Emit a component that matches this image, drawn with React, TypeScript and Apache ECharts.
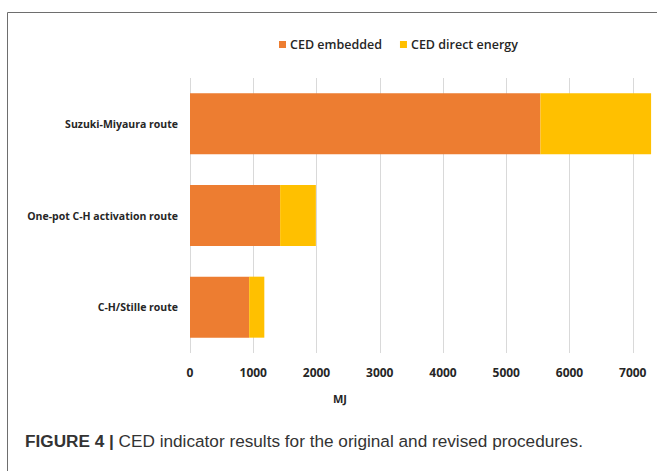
import React, { useEffect, useRef } from "react";
import * as echarts from "echarts";

const categories = ["Suzuki-Miyaura route", "One-pot C-H activation route", "C-H/Stille route"];
const embedded = [5540, 1425, 935];
const directEnergy = [1750, 565, 240];
const seriesNames = ["CED embedded", "CED direct energy"];
const xTicks = { min: 0, max: 8000, interval: 1000, lastShown: 7000 };

export default function App() {
  const ref = useRef<HTMLDivElement>(null);
  useEffect(() => {
    const chart = echarts.init(ref.current!, null, { renderer: "svg" });
    const font = "'Open Sans', 'DejaVu Sans', sans-serif";
    chart.setOption({
      animation: false,
      backgroundColor: "#ffffff",
      legend: {
        left: 274,
        top: 33,
        itemWidth: 7,
        itemHeight: 7,
        itemGap: 18,
        icon: "rect",
        textStyle: { fontFamily: font, fontWeight: 600, fontSize: 12.5, color: "#262626", padding: [0, 0, 0, -1] },
        data: seriesNames,
      },
      grid: { left: 190, top: 78, height: 275, right: -39, outerBoundsMode: "none", containLabel: false },
      xAxis: {
        type: "value",
        min: xTicks.min,
        max: xTicks.max,
        interval: xTicks.interval,
        axisLine: { show: false },
        axisTick: { show: false },
        splitLine: { show: true, lineStyle: { color: "#d9d9d9", width: 1 } },
        axisLabel: {
          fontFamily: font,
          fontWeight: 700,
          fontSize: 12,
          color: "#262626",
          margin: 13,
          formatter: (v: number) => (v > xTicks.lastShown ? "" : String(v)),
        },
      },
      yAxis: {
        type: "category",
        inverse: true,
        data: categories,
        axisLine: { show: false },
        axisTick: { show: false },
        axisLabel: { fontFamily: font, fontWeight: 700, fontSize: 10.5, color: "#262626", margin: 12 },
      },
      series: [
        { name: seriesNames[0], type: "bar", stack: "ced", data: embedded, barWidth: 61, itemStyle: { color: "#ED7D31" } },
        { name: seriesNames[1], type: "bar", stack: "ced", data: directEnergy, barWidth: 61, itemStyle: { color: "#FFC000" } },
      ],
      graphic: [
        {
          type: "rect",
          shape: { x: 7.5, y: 12.5, width: 700, height: 520 },
          style: { fill: "none", stroke: "#6e6e6e", lineWidth: 1 },
          silent: true,
        },
        {
          type: "text",
          x: 340,
          y: 398,
          style: { text: "MJ", fontFamily: font, fontWeight: 700, fontSize: 11, fill: "#262626", align: "center", verticalAlign: "middle" },
        },
        {
          type: "text",
          x: 25,
          y: 441,
          style: {
            text: "{b|FIGURE 4 |} CED indicator results for the original and revised procedures.",
            fontFamily: "'Liberation Sans', Arial, sans-serif",
            fontSize: 17.2,
            fill: "#333333",
            verticalAlign: "middle",
            rich: { b: { fontFamily: "'Liberation Sans', Arial, sans-serif", fontWeight: 700, fontSize: 17.2, fill: "#333333" } },
          },
        },
      ],
    });
    return () => chart.dispose();
  }, []);
  return <div ref={ref} style={{ position: "fixed", left: 0, top: 0, width: 657, height: 471 }} />;
}
